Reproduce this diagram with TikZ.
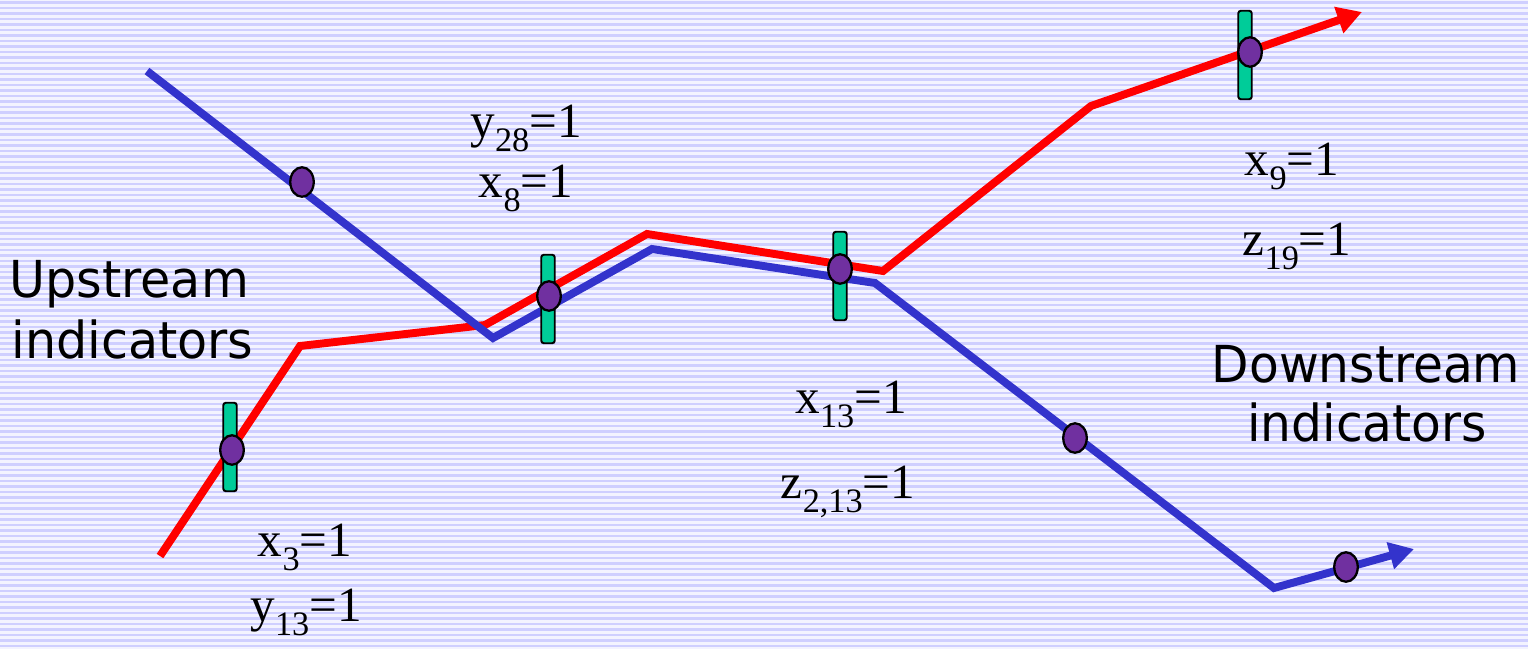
\documentclass[tikz,border=0pt]{standalone}
\usepackage{fontspec}
\setmainfont{Liberation Serif}
\newfontfamily\comicfont{DejaVu Sans}
\usetikzlibrary{arrows.meta,shapes.geometric}
\definecolor{redline}{HTML}{FF0000}
\definecolor{blueline}{HTML}{3333CC}
\definecolor{purp}{HTML}{7030A0}
\definecolor{greenbar}{HTML}{00CC99}
\definecolor{bglight}{HTML}{F3F3FF}
\definecolor{bgdark}{HTML}{CFCFFF}
\newcommand{\lsub}[1]{\raisebox{-0.3em}{\fontsize{19.5}{19.5}\selectfont #1}}
\tikzset{
  pathline/.style={line width=4.5pt, line join=miter, -{Triangle[length=14pt,width=15pt]}},
  bar/.style={draw=black, line width=1.1pt, fill=greenbar, rectangle, rounded corners=1.5pt,
    minimum width=0.27cm, minimum height=1.77cm, inner sep=0pt},
  dot/.style={draw=black, line width=1.3pt, fill=purp, ellipse,
    minimum width=0.47cm, minimum height=0.59cm, inner sep=0pt},
  lbl/.style={anchor=base, inner sep=0pt, font=\fontsize{28}{32}\selectfont},
  comic/.style={inner sep=0pt, font=\comicfont\fontsize{29}{35}\selectfont}
}
\begin{document}
\begin{tikzpicture}[x=0.02cm,y=-0.02cm]
\useasboundingbox (0,0) rectangle (1528,649);
\fill[bglight] (0,0) rectangle (1528,649);
\foreach \i in {0,...,118} \fill[bgdark] (0,\i*5.5+1.2) rectangle (1528,\i*5.5+3.6);

% red path
\coordinate (r0) at (160,556);
\coordinate (r1) at (300,346);
\coordinate (r2) at (485,325);
\coordinate (r3) at (647,234);
\coordinate (r4) at (883,271);
\coordinate (r5) at (1091,106);
\coordinate (r6) at (1362,12);
% blue path
\coordinate (b0) at (147,71);
\coordinate (b1) at (493,338);
\coordinate (b2) at (652,249);
\coordinate (b3) at (875,283);
\coordinate (b4) at (1274,588);
\coordinate (b5) at (1414,549);

\draw[pathline, redline] (r0) -- (r1) -- (r2) -- (r3) -- (r4) -- (r5) -- (r6);
\draw[pathline, blueline] (b0) -- (b1) -- (b2) -- (b3) -- (b4) -- (b5);

% bars
\node[bar] (g1) at (230,447) {};
\node[bar] (g2) at (548,299) {};
\node[bar] (g3) at (840,276) {};
\node[bar] (g4) at (1245,55) {};
% dots
\node[dot] (d1) at (232,450) {};
\node[dot] (d2) at (549,296) {};
\node[dot] (d3) at (840,269) {};
\node[dot] (d4) at (1250,52) {};
\node[dot] (d5) at (302,182) {};
\node[dot] (d6) at (1075,438) {};
\node[dot] (d7) at (1346,567) {};

% labels
\node[lbl] (t1) at (526,137) {y\lsub{28}=1};
\node[lbl] (t2) at (526,197) {x\lsub{8}=1};
\node[lbl] (t3) at (1292,175) {x\lsub{9}=1};
\node[lbl] (t4) at (1297,255) {z\lsub{19}=1};
\node[lbl] (t5) at (851,413) {x\lsub{13}=1};
\node[lbl] (t6) at (848,498) {z\lsub{2,13}=1};
\node[lbl] (t7) at (305,556) {x\lsub{3}=1};
\node[lbl] (t8) at (306,621) {y\lsub{13}=1};

\node[comic, anchor=base west] (u1) at (9,297) {\scalebox{0.965}[1]{Upstream}};
\node[comic, anchor=base west] (u2) at (11,358) {\scalebox{0.965}[1]{indicators}};
\node[comic, anchor=base] (w1) at (1366,382) {\scalebox{0.955}[1]{Downstream}};
\node[comic, anchor=base] (w2) at (1367,441) {\scalebox{0.955}[1]{indicators}};
\end{tikzpicture}
\end{document}
